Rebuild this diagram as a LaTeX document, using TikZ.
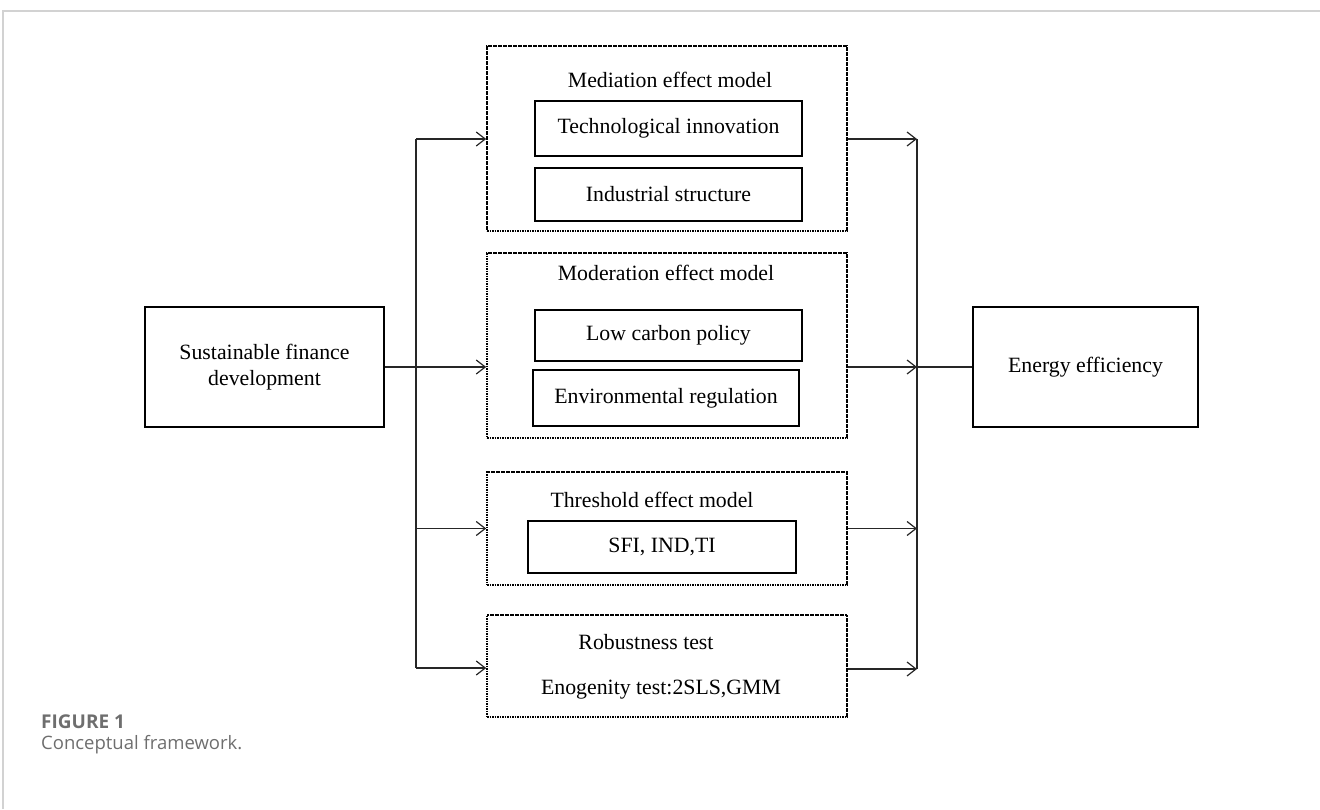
\documentclass[tikz,border=0pt]{standalone}
\usepackage{fontspec}
\setmainfont{Liberation Serif}
\newfontfamily\capfont{Open Sans}
\usetikzlibrary{arrows.meta}
\definecolor{capgray}{HTML}{6E6E6E}
\definecolor{framegray}{HTML}{D2D2D2}
\tikzset{
  solidbox/.style={draw,line width=2pt,inner sep=0pt,minimum width=267pt,font=\fontsize{21.8}{26}\selectfont},
  groupbox/.style={draw,line width=1.6pt,dash pattern=on 1.6pt off 0.9pt,inner sep=0pt,minimum width=360pt},
  headtext/.style={inner sep=1pt,font=\fontsize{21.8}{26}\selectfont},
  link/.style={line width=1.2pt,draw=black!85},
  flow/.style={link,-{Straight Barb[length=9pt,width=14pt]}}
}
\begin{document}
\begin{tikzpicture}[x=1pt,y=-1pt]
\path[use as bounding box] (0,0) rectangle (1320,809);
\draw[framegray,line width=1.2pt] (3,809) -- (3,11) -- (1320,11);
\node[solidbox,minimum width=239pt,minimum height=120pt,align=center] (sfd) at (264.5,367) {Sustainable finance\\development};
\node[solidbox,minimum width=225pt,minimum height=120pt] (ee) at (1085.5,367) {Energy efficiency};
\node[groupbox,minimum height=185pt] (med) at (667,138.5) {};
\node[groupbox,minimum height=185pt] (mod) at (667,345.5) {};
\node[groupbox,minimum height=113pt] (thr) at (667,528.5) {};
\node[groupbox,minimum height=102pt] (rob) at (667,666) {};
\node[headtext] (medhead) at (670,80) {Mediation effect model};
\node[solidbox,minimum height=55pt] (ti) at (668.5,128.5) {Technological innovation};
\node[solidbox,minimum height=53pt] (is) at (668.5,194.5) {Industrial structure};
\node[headtext] (modhead) at (666,273) {Moderation effect model};
\node[solidbox,minimum height=51pt] (lcp) at (668.5,335.5) {Low carbon policy};
\node[solidbox,minimum height=56pt,minimum width=266pt] (er) at (666,398) {Environmental regulation};
\node[headtext] (thrhead) at (652,500) {Threshold effect model};
\node[solidbox,minimum height=52pt,minimum width=268pt] (sfi) at (662,547) {SFI, IND,TI};
\node[headtext] (robhead) at (646,642) {Robustness test};
\node[headtext] (robtest) at (661,690) {Enogenity test:2SLS,GMM};
\coordinate (split) at (416,367);
\coordinate (splittop) at (416,139);
\coordinate (splitbot) at (416,668);
\coordinate (merge) at (917,367);
\coordinate (mergetop) at (917,139);
\coordinate (mergebot) at (917,669);
\draw[link] (splittop) -- (splitbot);
\draw[link] (sfd.east) -- (split);
\draw[flow] (splittop) -- (splittop -| med.west);
\draw[flow] (split) -- (split -| mod.west);
\draw[flow] (splittop |- thr.west) -- (thr.west);
\draw[flow] (splitbot) -- (splitbot -| rob.west);
\draw[link] (mergetop) -- (mergebot);
\draw[flow] (med.east |- mergetop) -- (mergetop);
\draw[flow] (mod.east |- merge) -- (merge);
\draw[flow] (thr.east) -- (thr.east -| merge);
\draw[flow] (rob.east |- mergebot) -- (mergebot);
\draw[link] (ee.west) -- (merge);
\node[anchor=west,inner sep=0pt,font=\capfont\bfseries\fontsize{19}{22}\selectfont,text=capgray] (capnum) at (41,722) {FIGURE 1};
\node[anchor=west,inner sep=0pt,font=\capfont\fontsize{18.5}{22}\selectfont,text=capgray] (captext) at (41,745) {Conceptual framework.};
\end{tikzpicture}
\end{document}
